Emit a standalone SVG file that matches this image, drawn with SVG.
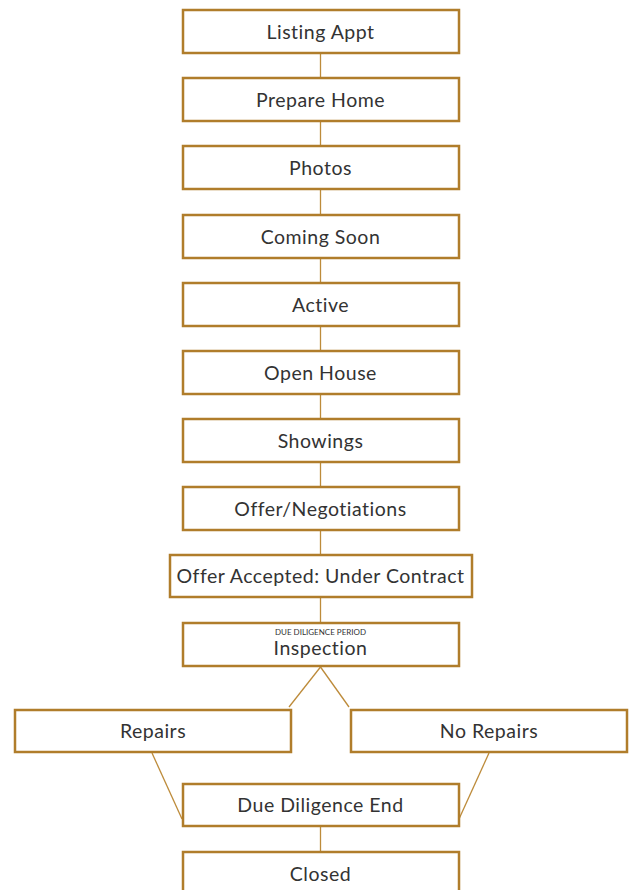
<svg xmlns="http://www.w3.org/2000/svg" width="636" height="890" viewBox="0 0 636 890">
<style>
.b{fill:#fff;stroke:#b07d2b;stroke-width:2.5}
.t{font-family:Lato,"Open Sans",sans-serif;font-size:19.5px;letter-spacing:0.5px;fill:#333;text-anchor:middle}
.s{font-family:Lato,"Open Sans",sans-serif;font-size:8px;fill:#333;text-anchor:middle}
.c{stroke:#bd8b3a;stroke-width:1.3;fill:none}
</style>
<rect width="636" height="890" fill="#fff"/>
<g id="connectors">
<line class="c" x1="320.5" y1="53" x2="320.5" y2="78"/>
<line class="c" x1="320.5" y1="121" x2="320.5" y2="146"/>
<line class="c" x1="320.5" y1="189" x2="320.5" y2="215"/>
<line class="c" x1="320.5" y1="258" x2="320.5" y2="283"/>
<line class="c" x1="320.5" y1="326" x2="320.5" y2="351"/>
<line class="c" x1="320.5" y1="394" x2="320.5" y2="419"/>
<line class="c" x1="320.5" y1="462" x2="320.5" y2="487"/>
<line class="c" x1="320.5" y1="530" x2="320.5" y2="555"/>
<line class="c" x1="320.5" y1="598" x2="320.5" y2="623"/>
<line class="c" x1="320.5" y1="667" x2="289" y2="707"/>
<line class="c" x1="320.5" y1="667" x2="349" y2="707"/>
<line class="c" x1="152" y1="753" x2="182" y2="819"/>
<line class="c" x1="489" y1="753" x2="459" y2="819"/>
<line class="c" x1="320.5" y1="826" x2="320.5" y2="852"/>
</g>
<g id="listing"><rect class="b" x="183" y="10" width="276" height="43"/><text class="t" x="320.5" y="39">Listing Appt</text></g>
<g id="prepare"><rect class="b" x="183" y="78" width="276" height="43"/><text class="t" x="320.5" y="107">Prepare Home</text></g>
<g id="photos"><rect class="b" x="183" y="146" width="276" height="43"/><text class="t" x="320.5" y="175">Photos</text></g>
<g id="coming"><rect class="b" x="183" y="215" width="276" height="43"/><text class="t" x="320.5" y="244">Coming Soon</text></g>
<g id="active"><rect class="b" x="183" y="283" width="276" height="43"/><text class="t" x="320.5" y="312">Active</text></g>
<g id="openhouse"><rect class="b" x="183" y="351" width="276" height="43"/><text class="t" x="320.5" y="380">Open House</text></g>
<g id="showings"><rect class="b" x="183" y="419" width="276" height="43"/><text class="t" x="320.5" y="448">Showings</text></g>
<g id="offer"><rect class="b" x="183" y="487" width="276" height="43"/><text class="t" x="320.5" y="516">Offer/Negotiations</text></g>
<g id="accepted"><rect class="b" x="170" y="555" width="302" height="42"/><text class="t" x="320.5" y="583">Offer Accepted: Under Contract</text></g>
<g id="inspection"><rect class="b" x="183" y="623" width="276" height="43"/><text class="s" x="320.5" y="635">DUE DILIGENCE PERIOD</text><text class="t" x="320.5" y="655">Inspection</text></g>
<g id="repairs"><rect class="b" x="15" y="710" width="276" height="42"/><text class="t" x="153" y="738">Repairs</text></g>
<g id="norepairs"><rect class="b" x="351" y="710" width="276" height="42"/><text class="t" x="489" y="738">No Repairs</text></g>
<g id="ddend"><rect class="b" x="183" y="784" width="276" height="42"/><text class="t" x="320.5" y="812">Due Diligence End</text></g>
<g id="closed"><rect class="b" x="183" y="852" width="276" height="43"/><text class="t" x="320.5" y="881">Closed</text></g>
</svg>
